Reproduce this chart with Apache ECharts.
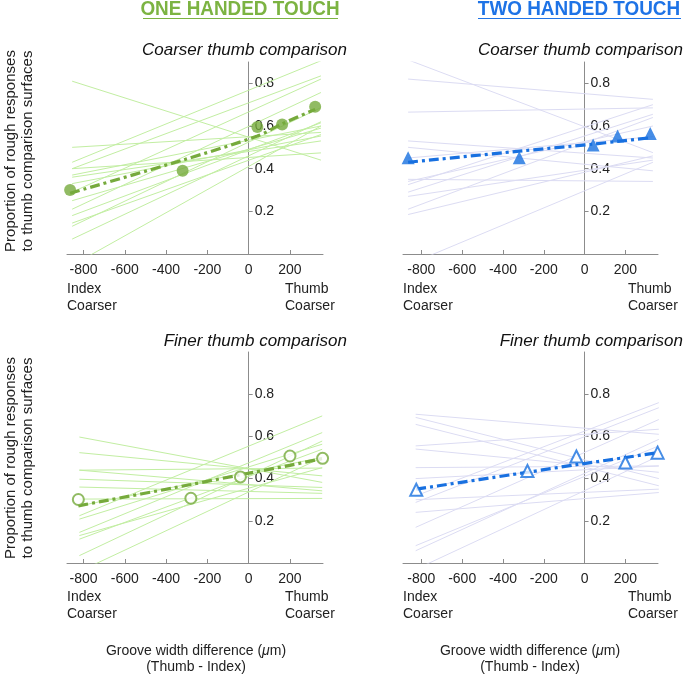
<!DOCTYPE html>
<html>
<head>
<meta charset="utf-8">
<script src="https://cdn.jsdelivr.net/npm/echarts@6/dist/echarts.min.js"></script>
<style>html,body{margin:0;padding:0;background:#fff}#c{width:685px;height:675px}</style>
</head>
<body>
<div id="c"></div>
<script>
// ---- data ----
const xTicks = [-800, -600, -400, -200, 0, 200];
const yTicks = [0.2, 0.4, 0.6, 0.8];

const topX = [-865, -320, 42, 162, 322];
const bottomX = [-825, -280, -40, 200, 358];

// one-handed, coarser thumb
const oneCoarseMean = [0.30, 0.39, 0.595, 0.607, 0.69];
const oneCoarseFit = [0.285, 0.44, 0.553, 0.61, 0.678];
const oneCoarseLineX = [-855, 350];
const oneCoarseLeft  = [0.81, 0.50, 0.43, 0.40, 0.37, 0.33, 0.29, 0.25, 0.21, 0.18, 0.145, 0.13, 0.07, -0.053, 0.40, 0.36];
const oneCoarseRight = [0.44, 0.57, 0.906, 0.835, 0.60, 0.553, 0.82, 0.59, 0.757, 0.615, 0.56, 0.686, 0.62, 0.60, 0.474, 0.53];

// two-handed, coarser thumb
const twoCoarseMean = [0.451, 0.451, 0.511, 0.553, 0.565];
const twoCoarseFit = [0.43, 0.482, 0.515, 0.528, 0.545];
const twoCoarseLineX = [-865, 335];
const twoCoarseLeft  = [0.91, 0.82, 0.665, 0.53, 0.50, 0.35, 0.325, 0.29, 0.27, 0.21, 0.185, -0.05, 0.45, 0.34];
const twoCoarseRight = [0.475, 0.725, 0.685, 0.45, 0.39, 0.34, 0.70, 0.655, 0.44, 0.64, 0.46, 0.43, 0.55, 0.60];

// one-handed, finer thumb
const oneFineMean = [0.301, 0.307, 0.408, 0.507, 0.496];
const oneFineFit = [0.271, 0.372, 0.418, 0.463, 0.495];
const oneFineLineX = [-820, 356];
const oneFineLeft  = [0.597, 0.523, 0.44, 0.397, 0.303, 0.271, 0.224, 0.208, 0.145, 0.13, 0.113, 0.035, -0.04, 0.36, 0.44];
const oneFineRight = [0.382, 0.413, 0.342, 0.358, 0.306, 0.50, 0.697, 0.563, 0.618, 0.452, 0.539, 0.578, 0.50, 0.33, 0.45];

// two-handed, finer thumb
const twoFineMean = [0.347, 0.436, 0.505, 0.476, 0.523];
const twoFineFit = [0.35, 0.43, 0.466, 0.50, 0.523];
const twoFineLineX = [-828, 364];
const twoFineLeft  = [0.705, 0.69, 0.657, 0.555, 0.54, 0.452, 0.318, 0.287, 0.24, 0.169, 0.082, 0.058, -0.03, 0.30, 0.40];
const twoFineRight = [0.61, 0.40, 0.366, 0.634, 0.43, 0.46, 0.76, 0.736, 0.334, 0.68, 0.555, 0.586, 0.507, 0.35, 0.46];

// ---- styling ----
const FONT = "'Liberation Sans', Arial, Helvetica, sans-serif";
const GREEN = '#76aa3c', GREEN_LIGHT = '#c2eea2', GREEN_HEAD = '#7cb342';
const BLUE = '#1870e0', BLUE_LIGHT = '#dcdcf3', BLUE_HEAD = '#1e73e6';
const AXIS = '#8c8c8c';

const grids = [
  {left: 67, top: 62, width: 256, height: 192},
  {left: 403, top: 62, width: 255, height: 192},
  {left: 67, top: 352, width: 256, height: 211},
  {left: 403, top: 352, width: 255, height: 211}
];
const xRanges = [[-880, 360], [-890, 360], [-880, 360], [-890, 360]];
const yMax = [0.9, 0.9, 1.0, 1.0];

const xAxes = grids.map((g, i) => ({
  type: 'value', gridIndex: i, min: xRanges[i][0], max: xRanges[i][1],
  axisLine: {show: true, onZero: false, lineStyle: {color: AXIS, width: 1}},
  axisTick: {show: true, inside: true, length: 4, customValues: xTicks, lineStyle: {color: AXIS}},
  axisLabel: {customValues: xTicks, fontSize: 14, color: '#222', margin: 9, fontFamily: FONT},
  splitLine: {show: false}
}));
// place the vertical axis where x = 0 (shift from the grid's left edge)
const yAxes = grids.map((g, i) => ({
  type: 'value', gridIndex: i, min: 0, max: yMax[i], position: 'left',
  offset: -g.width * (0 - xRanges[i][0]) / (xRanges[i][1] - xRanges[i][0]),
  axisLine: {show: true, onZero: false, lineStyle: {color: AXIS, width: 1}},
  axisTick: {show: true, inside: true, length: 4, customValues: yTicks, lineStyle: {color: AXIS}},
  axisLabel: {inside: true, customValues: yTicks, fontSize: 14, color: '#222', margin: 6, fontFamily: FONT,
    formatter: v => v.toFixed(1)},
  splitLine: {show: false}
}));

const series = [];
function addPanel(idx, lineX, left, right, xs, fit, mean, light, dark, symbol, size, hollow) {
  left.forEach((lv, k) => {
    series.push({
      type: 'line', xAxisIndex: idx, yAxisIndex: idx, silent: true, symbol: 'none',
      data: [[lineX[0], lv], [lineX[1], right[k]]],
      lineStyle: {color: light, width: 1}, z: 2
    });
  });
  series.push({
    type: 'line', xAxisIndex: idx, yAxisIndex: idx, silent: true, symbol: 'none', smooth: 0.3,
    data: xs.map((x, k) => [x, fit[k]]),
    lineStyle: {color: dark, width: 3.2, type: [10, 4, 3, 4]}, z: 3
  });
  series.push({
    type: 'scatter', xAxisIndex: idx, yAxisIndex: idx, silent: true, symbol: symbol, symbolSize: size,
    data: xs.map((x, k) => [x, mean[k]]),
    itemStyle: hollow ? {color: '#fff', borderColor: dark, borderWidth: 2} : {color: dark},
    z: 4
  });
}
addPanel(0, oneCoarseLineX, oneCoarseLeft, oneCoarseRight, topX, oneCoarseFit, oneCoarseMean, GREEN_LIGHT, GREEN, 'circle', 12, false);
addPanel(1, twoCoarseLineX, twoCoarseLeft, twoCoarseRight, topX, twoCoarseFit, twoCoarseMean, BLUE_LIGHT, BLUE, 'triangle', 13, false);
addPanel(2, oneFineLineX, oneFineLeft, oneFineRight, bottomX, oneFineFit, oneFineMean, GREEN_LIGHT, GREEN, 'circle', 11, true);
addPanel(3, twoFineLineX, twoFineLeft, twoFineRight, bottomX, twoFineFit, twoFineMean, BLUE_LIGHT, BLUE, 'triangle', 12, true);

function txt(x, y, text, opts) {
  return {type: 'text', x: x, y: y, silent: true,
    style: Object.assign({text: text, fontSize: 14, fontFamily: FONT, fill: '#222',
      textAlign: 'left', textVerticalAlign: 'middle'}, opts || {})};
}
const yTitle = 'Proportion of rough responses\nto thumb comparison surfaces';
const xTitle = '{n|Groove width difference (}{i|\u03bc}{n|m)}\n{n|(Thumb - Index)}';
const xTitleRich = {
  n: {fontSize: 14, fontFamily: FONT, fill: '#222', lineHeight: 16},
  i: {fontSize: 14, fontFamily: FONT, fill: '#222', fontStyle: 'italic', lineHeight: 16}
};
const HEADFONT = "'Liberation Sans Narrow', 'Arial Narrow', " + FONT;
const graphic = [
  // column headers
  Object.assign(txt(240, 9, 'ONE HANDED TOUCH', {textAlign: 'center', fontSize: 21, fontWeight: 'bold',
    fontFamily: HEADFONT, fill: GREEN_HEAD}), {scaleX: 0.9, originX: 0, originY: 0}),
  Object.assign(txt(579, 9, 'TWO HANDED TOUCH', {textAlign: 'center', fontSize: 21, fontWeight: 'bold',
    fontFamily: HEADFONT, fill: BLUE_HEAD}), {scaleX: 0.9, originX: 0, originY: 0}),
  {type: 'line', silent: true, shape: {x1: 143, y1: 18.5, x2: 338, y2: 18.5}, style: {stroke: GREEN_HEAD, lineWidth: 1}},
  {type: 'line', silent: true, shape: {x1: 478, y1: 18.5, x2: 681, y2: 18.5}, style: {stroke: BLUE_HEAD, lineWidth: 1}},
  // panel titles
  txt(347, 50, 'Coarser thumb comparison', {textAlign: 'right', fontSize: 17, fontStyle: 'italic', fill: '#111'}),
  txt(683, 50, 'Coarser thumb comparison', {textAlign: 'right', fontSize: 17, fontStyle: 'italic', fill: '#111'}),
  txt(347, 341, 'Finer thumb comparison', {textAlign: 'right', fontSize: 17, fontStyle: 'italic', fill: '#111'}),
  txt(683, 341, 'Finer thumb comparison', {textAlign: 'right', fontSize: 17, fontStyle: 'italic', fill: '#111'}),
  // y titles
  Object.assign(txt(19, 151, yTitle, {textAlign: 'center', fontSize: 15, lineHeight: 17}), {rotation: Math.PI / 2}),
  Object.assign(txt(19, 458, yTitle, {textAlign: 'center', fontSize: 15, lineHeight: 17}), {rotation: Math.PI / 2}),
  // direction labels
  txt(67, 298, 'Index\nCoarser', {lineHeight: 17}),
  txt(285, 298, 'Thumb\nCoarser', {lineHeight: 17}),
  txt(403, 298, 'Index\nCoarser', {lineHeight: 17}),
  txt(628, 298, 'Thumb\nCoarser', {lineHeight: 17}),
  txt(67, 606, 'Index\nCoarser', {lineHeight: 17}),
  txt(285, 606, 'Thumb\nCoarser', {lineHeight: 17}),
  txt(403, 606, 'Index\nCoarser', {lineHeight: 17}),
  txt(628, 606, 'Thumb\nCoarser', {lineHeight: 17}),
  // x titles
  txt(196, 659, xTitle, {textAlign: 'center', lineHeight: 16, rich: xTitleRich}),
  txt(530, 659, xTitle, {textAlign: 'center', lineHeight: 16, rich: xTitleRich})
];

const chart = echarts.init(document.getElementById('c'), null, {renderer: 'canvas'});
chart.setOption({
  animation: false,
  backgroundColor: '#fff',
  grid: grids,
  xAxis: xAxes,
  yAxis: yAxes,
  series: series,
  graphic: graphic
});
</script>
</body>
</html>
